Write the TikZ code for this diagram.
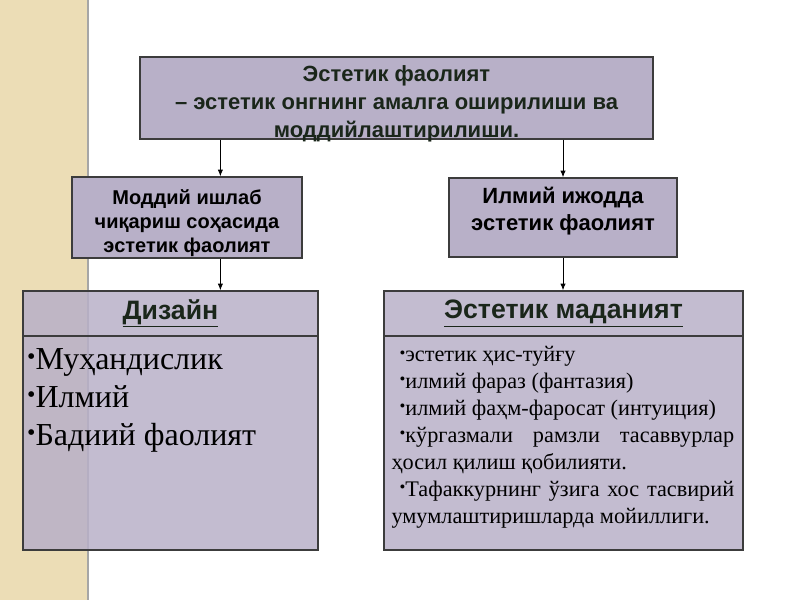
\documentclass[tikz,border=0pt]{standalone}
\usepackage{fontspec}
\setmainfont{Liberation Serif}
\setsansfont{Liberation Sans}
\usetikzlibrary{arrows.meta,positioning}

\definecolor{beige}{RGB}{236,221,182}
\definecolor{boxfill}{RGB}{184,176,200}
\definecolor{boxline}{RGB}{60,60,60}
\definecolor{darkgreen}{RGB}{26,38,26}

\tikzset{
  box/.style={draw=boxline, line width=1.1pt, fill=boxfill, align=center, inner sep=2pt},
  listbox/.style={draw=boxline, line width=1.1pt, fill=boxfill, fill opacity=0.85},
  headbox/.style={draw=boxline, line width=1.1pt, font=\sffamily\bfseries\fontsize{20}{22}\selectfont, text=darkgreen},
  arr/.style={-{Latex[length=5pt,width=4pt]}, line width=0.6pt},
}
\newcommand{\blt}{\raisebox{0.35ex}{\scalebox{0.75}{\textbullet}}}

\begin{document}
\begin{tikzpicture}[x=0.75pt,y=-0.75pt]
    \useasboundingbox (0,0) rectangle (800,600);

\fill [beige] (0,0) rectangle (88,600);
\draw [gray!70, line width=1.2pt] (88,0) -- (88,600);

\node [box, minimum width=384.75pt, minimum height=61.5pt] (faoliyat) at (396.5,98) {};
\node [align=center, inner sep=0pt, text=darkgreen,
       font=\sffamily\bfseries\fontsize{16.5}{21}\selectfont] (faoliyat_text)
      at ([yshift=-4.5pt]faoliyat.center)
      {Эстетик фаолият\\ – эстетик онгнинг амалга оширилиши ва\\ моддийлаштирилиши.};

\node [box, minimum width=172.5pt, minimum height=60.75pt, inner ysep=0pt,
       font=\sffamily\bfseries\fontsize{15}{18}\selectfont] (moddiy) at (187,217.5)
      {\rule{0pt}{19.5pt}Моддий ишлаб\\ чиқариш соҳасида\\ эстетик фаолият};
\node [box, minimum width=171pt, minimum height=59.25pt, text depth=13pt,
       font=\sffamily\bfseries\fontsize{16.5}{20}\selectfont] (ilmiy) at (563,217.5)
      {Илмий ижодда\\ эстетик фаолият};

\node [listbox, minimum width=221.25pt, minimum height=194.25pt] (dizayn) at (170.5,420.5) {};
\node [headbox, minimum width=221.25pt, minimum height=33.75pt, anchor=north] (dizayn_head)
      at (dizayn.north) {\underline{Дизайн}};
\node [anchor=north west, inner sep=0pt, align=left,
       font=\fontsize{24}{28.5}\selectfont] (dizayn_list)
      at ([xshift=3.5pt,yshift=-9pt]dizayn_head.south west)
      {\blt Муҳандислик\\ \blt Илмий\\ \blt Бадиий фаолият};

\node [listbox, minimum width=269.25pt, minimum height=194.25pt] (madaniyat) at (563.5,420.5) {};
\node [headbox, minimum width=269.25pt, minimum height=33.75pt, anchor=north] (madaniyat_head)
      at (madaniyat.north) {\underline{Эстетик маданият}};
\node [anchor=north west, inner sep=0pt, text width=257pt, align=justify,
       font=\fontsize{16.7}{20.2}\selectfont] (madaniyat_list)
      at ([xshift=6pt,yshift=-7pt]madaniyat_head.south west)
      {\hyphenpenalty=10000
       \hspace*{6pt}\blt эстетик ҳис-туйғу\par
       \hspace*{6pt}\blt илмий фараз (фантазия)\par
       \hspace*{6pt}\blt илмий фаҳм-фаросат (интуиция)\par
       \hspace*{6pt}\blt кўргазмали рамзли тасаввурлар ҳосил қилиш қобилияти.\par
       \hspace*{6pt}\blt Тафаккурнинг ўзига хос тасвирий умумлаштиришларда мойиллиги.};

\draw [arr] (moddiy.51 |- faoliyat.south) -- (moddiy.51);
\draw [arr] (ilmiy.north |- faoliyat.south) -- (ilmiy.north);
\draw [arr] (moddiy.51 |- moddiy.south) -- (moddiy.51 |- dizayn.north);
\draw [arr] (ilmiy.south) -- (ilmiy.south |- madaniyat.north);

\end{tikzpicture}
\end{document}
